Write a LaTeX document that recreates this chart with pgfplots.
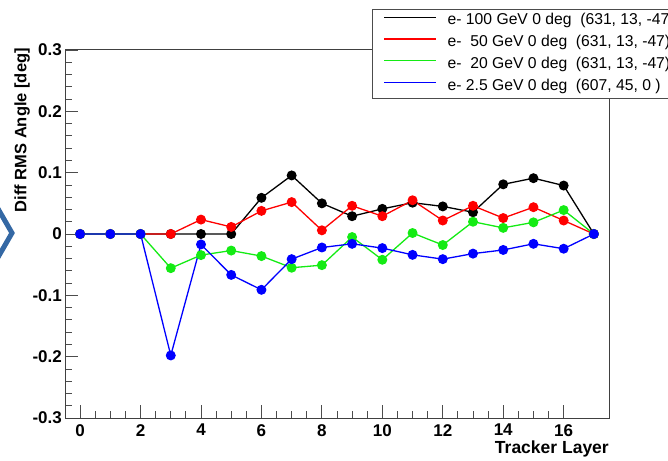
\documentclass[border=0pt]{standalone}
\usepackage{pgfplots}
\pgfplotsset{compat=1.18}
\usepackage{fontspec}
\setmainfont{Liberation Sans}
\definecolor{chev}{RGB}{52,104,164}
\definecolor{rgreen}{RGB}{20,235,20}
\pgfplotstableread{
x black red green blue
0 0 0 0 0
1 0 0 0 0
2 0 0 0 0
3 0 0 -0.0557 -0.198
4 0 0.0235 -0.0344 -0.017
5 0 0.0115 -0.027 -0.0667
6 0.059 0.0377 -0.036 -0.091
7 0.0955 0.052 -0.055 -0.041
8 0.050 0.006 -0.0508 -0.022
9 0.029 0.046 -0.005 -0.016
10 0.041 0.029 -0.042 -0.023
11 0.051 0.055 0.0016 -0.034
12 0.045 0.022 -0.018 -0.041
13 0.0355 0.046 0.020 -0.032
14 0.081 0.026 0.010 -0.026
15 0.091 0.0437 0.019 -0.016
16 0.079 0.022 0.039 -0.024
17 0 0 0 0
}\datatable
\begin{document}
\begin{tikzpicture}
\path[use as bounding box] (0pt,0pt) rectangle (668pt,460pt);
\draw[line width=5pt, chev] (-3pt,253pt) -- (12pt,227pt) -- (-3pt,201pt);
\begin{axis}[
  at={(65pt,42pt)}, anchor=south west, scale only axis,
  width=544pt, height=368pt,
  xmin=-0.5, xmax=17.5, ymin=-0.3, ymax=0.3,
  xtick={0,2,4,6,8,10,12,14,16}, minor x tick num=3,
  ytick={-0.3,-0.2,-0.1,0,0.1,0.2,0.3},
  yticklabels={-0.3,-0.2,-0.1,0,0.1,0.2,0.3},
  minor y tick num=4,
  tick align=inside, xtick pos=bottom, ytick pos=left,
  major tick length=13pt, minor tick length=7pt,
  tick style={black!70, line width=0.8pt},
  axis line style={black!75, line width=1pt},
  /pgf/number format/assume math mode=true,
  ticklabel style={font=\bfseries\fontsize{17}{17}\selectfont},
  xticklabel style={inner sep=0pt, yshift=-6pt},
  yticklabel style={inner sep=0pt, xshift=-3pt},
  xlabel={Tracker Layer},
  xlabel style={font=\bfseries\fontsize{17.5}{17.5}\selectfont, at={(rel axis cs:1,0)}, anchor=north east, inner sep=0pt, yshift=-23pt},
  ylabel={Diff RMS Angle [deg]},
  ylabel style={font=\bfseries\fontsize{16.5}{16.5}\selectfont, at={(rel axis cs:0,1)}, anchor=south east, inner sep=0pt, yshift=35pt, xshift=2pt},
  legend style={at={(axis description cs:0.5643,1.1114)}, anchor=north west,
    font=\fontsize{15.7}{16}\selectfont, draw=black!70, line width=0.8pt, fill=white,
    inner xsep=11pt, inner ysep=4.5pt, row sep=7.2pt,
    nodes={inner sep=0pt, text height=11pt, text depth=3.5pt},
    /tikz/every odd column/.append style={column sep=11pt}},
  legend cell align=left,
  legend image code/.code={\draw[#1, mark=none] (0pt,4pt) -- (52pt,4pt);},
  every axis plot/.append style={line width=1.3pt, mark=*, mark size=4.3pt},
]
\addplot[black, mark options={fill=black}] table[x=x, y=black] {\datatable};
\addlegendentry{e- 100 GeV 0 deg\ \ (631, 13, -47)}
\addplot[red, mark options={fill=red}] table[x=x, y=red] {\datatable};
\addlegendentry{e-\ \ 50 GeV 0 deg\ \ (631, 13, -47)}
\addplot[rgreen, mark options={fill=rgreen}] table[x=x, y=green] {\datatable};
\addlegendentry{e-\ \ 20 GeV 0 deg\ \ (631, 13, -47)}
\addplot[blue, mark options={fill=blue}] table[x=x, y=blue] {\datatable};
\addlegendentry{e- 2.5 GeV 0 deg\ \ (607, 45, 0 )}
\end{axis}
\end{tikzpicture}
\end{document}
